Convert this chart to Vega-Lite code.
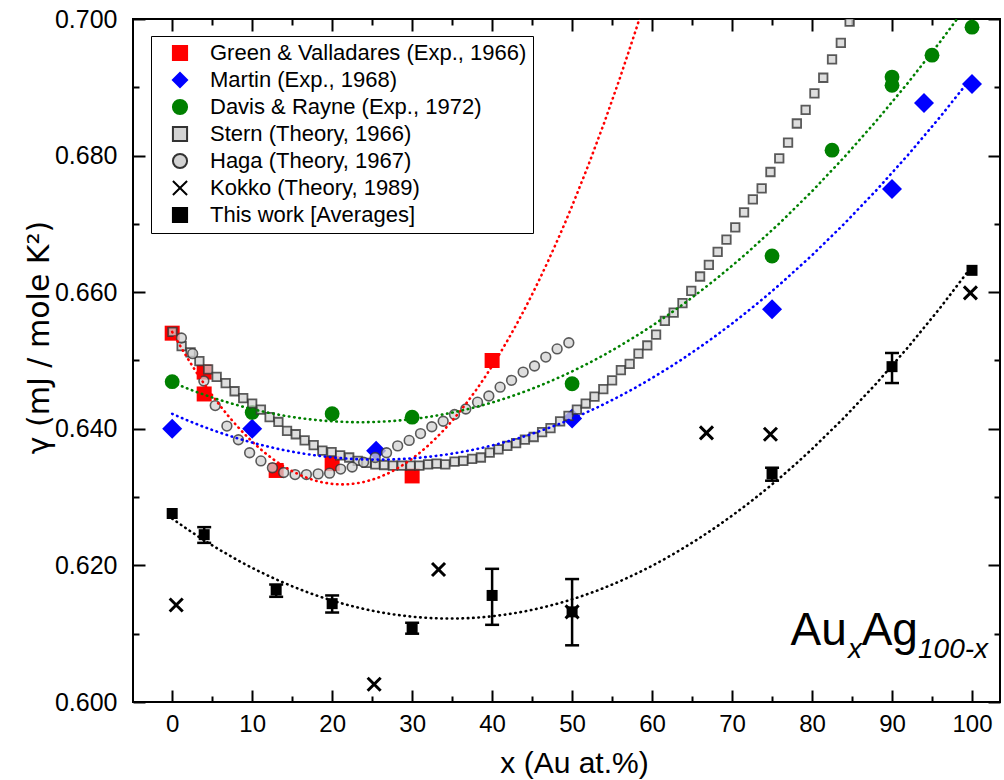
{
  "$schema": "https://vega.github.io/schema/vega-lite/v6.json",
  "width": 867,
  "height": 683,
  "autosize": {"type": "none"},
  "padding": {"left": 133, "top": 19, "right": 4, "bottom": 78},
  "background": "white",
  "config": {
    "view": {"stroke": "black", "strokeWidth": 2},
    "font": "Liberation Sans",
    "axis": {
      "domain": false, "grid": false, "tickColor": "black", "tickWidth": 2,
      "labelFont": "Liberation Sans", "labelFontSize": 24, "labelColor": "black",
      "titleFont": "Liberation Sans", "titleFontSize": 30, "titleFontWeight": "normal", "titleColor": "black"
    },
    "legend": {
      "orient": "none", "legendX": 18, "legendY": 17, "title": null,
      "strokeColor": "black", "fillColor": "white", "padding": 6, "cornerRadius": 0,
      "labelFont": "Liberation Sans", "labelFontSize": 22, "labelColor": "black", "labelLimit": 500,
      "rowPadding": 3, "symbolOffset": 12, "labelOffset": 19, "symbolSize": 200, "symbolStrokeWidth": 2, "symbolOpacity": 1
    }
  },
  "resolve": {"axis": {"x": "independent", "y": "independent"}},
  "datasets": {
    "pts": [
      {"series": "Green & Valladares (Exp., 1966)", "x": 0, "y": 0.6540},
      {"series": "Green & Valladares (Exp., 1966)", "x": 4, "y": 0.6483},
      {"series": "Green & Valladares (Exp., 1966)", "x": 4, "y": 0.6451},
      {"series": "Green & Valladares (Exp., 1966)", "x": 13, "y": 0.6339},
      {"series": "Green & Valladares (Exp., 1966)", "x": 20, "y": 0.6349},
      {"series": "Green & Valladares (Exp., 1966)", "x": 30, "y": 0.6331},
      {"series": "Green & Valladares (Exp., 1966)", "x": 40, "y": 0.6500},
      {"series": "Martin (Exp., 1968)", "x": 0, "y": 0.6400},
      {"series": "Martin (Exp., 1968)", "x": 10, "y": 0.6400},
      {"series": "Martin (Exp., 1968)", "x": 25.5, "y": 0.6368},
      {"series": "Martin (Exp., 1968)", "x": 50, "y": 0.6415},
      {"series": "Martin (Exp., 1968)", "x": 75, "y": 0.6575},
      {"series": "Martin (Exp., 1968)", "x": 90, "y": 0.6751},
      {"series": "Martin (Exp., 1968)", "x": 94, "y": 0.6877},
      {"series": "Martin (Exp., 1968)", "x": 100, "y": 0.6905},
      {"series": "Davis & Rayne (Exp., 1972)", "x": 0, "y": 0.6469},
      {"series": "Davis & Rayne (Exp., 1972)", "x": 10, "y": 0.6424},
      {"series": "Davis & Rayne (Exp., 1972)", "x": 20, "y": 0.6422},
      {"series": "Davis & Rayne (Exp., 1972)", "x": 30, "y": 0.6417},
      {"series": "Davis & Rayne (Exp., 1972)", "x": 50, "y": 0.6466},
      {"series": "Davis & Rayne (Exp., 1972)", "x": 75, "y": 0.6653},
      {"series": "Davis & Rayne (Exp., 1972)", "x": 82.5, "y": 0.6808},
      {"series": "Davis & Rayne (Exp., 1972)", "x": 90, "y": 0.6915},
      {"series": "Davis & Rayne (Exp., 1972)", "x": 90, "y": 0.6903},
      {"series": "Davis & Rayne (Exp., 1972)", "x": 95, "y": 0.6947},
      {"series": "Davis & Rayne (Exp., 1972)", "x": 100, "y": 0.6988},
      {"series": "Kokko (Theory, 1989)", "x": 0.5, "y": 0.6142},
      {"series": "Kokko (Theory, 1989)", "x": 25.25, "y": 0.6026},
      {"series": "Kokko (Theory, 1989)", "x": 33.3, "y": 0.6194},
      {"series": "Kokko (Theory, 1989)", "x": 50, "y": 0.6132},
      {"series": "Kokko (Theory, 1989)", "x": 66.8, "y": 0.6394},
      {"series": "Kokko (Theory, 1989)", "x": 74.8, "y": 0.6392},
      {"series": "Kokko (Theory, 1989)", "x": 99.8, "y": 0.6599}
    ],
    "stern": [
      {"series": "Stern (Theory, 1966)", "x": 0.03, "y": 0.6542},
      {"series": "Stern (Theory, 1966)", "x": 1.18, "y": 0.6521},
      {"series": "Stern (Theory, 1966)", "x": 2.3, "y": 0.6512},
      {"series": "Stern (Theory, 1966)", "x": 3.4, "y": 0.6499},
      {"series": "Stern (Theory, 1966)", "x": 4.49, "y": 0.6487},
      {"series": "Stern (Theory, 1966)", "x": 5.56, "y": 0.6476},
      {"series": "Stern (Theory, 1966)", "x": 6.69, "y": 0.6467},
      {"series": "Stern (Theory, 1966)", "x": 7.8, "y": 0.6455},
      {"series": "Stern (Theory, 1966)", "x": 8.88, "y": 0.6445},
      {"series": "Stern (Theory, 1966)", "x": 10.0, "y": 0.6437},
      {"series": "Stern (Theory, 1966)", "x": 11.09, "y": 0.6428},
      {"series": "Stern (Theory, 1966)", "x": 12.18, "y": 0.6417},
      {"series": "Stern (Theory, 1966)", "x": 13.28, "y": 0.6410},
      {"series": "Stern (Theory, 1966)", "x": 14.36, "y": 0.6397},
      {"series": "Stern (Theory, 1966)", "x": 15.45, "y": 0.6392},
      {"series": "Stern (Theory, 1966)", "x": 16.56, "y": 0.6383},
      {"series": "Stern (Theory, 1966)", "x": 17.69, "y": 0.6376},
      {"series": "Stern (Theory, 1966)", "x": 18.78, "y": 0.6368},
      {"series": "Stern (Theory, 1966)", "x": 19.93, "y": 0.6366},
      {"series": "Stern (Theory, 1966)", "x": 21.0, "y": 0.6361},
      {"series": "Stern (Theory, 1966)", "x": 22.13, "y": 0.6358},
      {"series": "Stern (Theory, 1966)", "x": 23.2, "y": 0.6353},
      {"series": "Stern (Theory, 1966)", "x": 24.3, "y": 0.6350},
      {"series": "Stern (Theory, 1966)", "x": 25.4, "y": 0.6348},
      {"series": "Stern (Theory, 1966)", "x": 26.5, "y": 0.6347},
      {"series": "Stern (Theory, 1966)", "x": 27.6, "y": 0.6346},
      {"series": "Stern (Theory, 1966)", "x": 28.7, "y": 0.6346},
      {"series": "Stern (Theory, 1966)", "x": 29.8, "y": 0.6346},
      {"series": "Stern (Theory, 1966)", "x": 30.9, "y": 0.6346},
      {"series": "Stern (Theory, 1966)", "x": 32.0, "y": 0.6348},
      {"series": "Stern (Theory, 1966)", "x": 33.05, "y": 0.6349},
      {"series": "Stern (Theory, 1966)", "x": 34.15, "y": 0.6348},
      {"series": "Stern (Theory, 1966)", "x": 35.3, "y": 0.6352},
      {"series": "Stern (Theory, 1966)", "x": 36.4, "y": 0.6353},
      {"series": "Stern (Theory, 1966)", "x": 37.5, "y": 0.6356},
      {"series": "Stern (Theory, 1966)", "x": 38.6, "y": 0.6358},
      {"series": "Stern (Theory, 1966)", "x": 39.7, "y": 0.6365},
      {"series": "Stern (Theory, 1966)", "x": 40.8, "y": 0.6370},
      {"series": "Stern (Theory, 1966)", "x": 41.9, "y": 0.6375},
      {"series": "Stern (Theory, 1966)", "x": 43.0, "y": 0.6379},
      {"series": "Stern (Theory, 1966)", "x": 44.1, "y": 0.6384},
      {"series": "Stern (Theory, 1966)", "x": 45.2, "y": 0.6388},
      {"series": "Stern (Theory, 1966)", "x": 46.25, "y": 0.6395},
      {"series": "Stern (Theory, 1966)", "x": 47.3, "y": 0.6401},
      {"series": "Stern (Theory, 1966)", "x": 48.5, "y": 0.6411},
      {"series": "Stern (Theory, 1966)", "x": 49.55, "y": 0.6419},
      {"series": "Stern (Theory, 1966)", "x": 50.6, "y": 0.6428},
      {"series": "Stern (Theory, 1966)", "x": 51.7, "y": 0.6437},
      {"series": "Stern (Theory, 1966)", "x": 52.8, "y": 0.6447},
      {"series": "Stern (Theory, 1966)", "x": 53.9, "y": 0.6458},
      {"series": "Stern (Theory, 1966)", "x": 55.0, "y": 0.6471},
      {"series": "Stern (Theory, 1966)", "x": 56.1, "y": 0.6486},
      {"series": "Stern (Theory, 1966)", "x": 57.2, "y": 0.6495},
      {"series": "Stern (Theory, 1966)", "x": 58.3, "y": 0.6510},
      {"series": "Stern (Theory, 1966)", "x": 59.4, "y": 0.6522},
      {"series": "Stern (Theory, 1966)", "x": 60.5, "y": 0.6538},
      {"series": "Stern (Theory, 1966)", "x": 61.6, "y": 0.6558},
      {"series": "Stern (Theory, 1966)", "x": 62.7, "y": 0.6570},
      {"series": "Stern (Theory, 1966)", "x": 63.8, "y": 0.6584},
      {"series": "Stern (Theory, 1966)", "x": 64.9, "y": 0.6602},
      {"series": "Stern (Theory, 1966)", "x": 66.0, "y": 0.6623},
      {"series": "Stern (Theory, 1966)", "x": 67.1, "y": 0.6640},
      {"series": "Stern (Theory, 1966)", "x": 68.2, "y": 0.6659},
      {"series": "Stern (Theory, 1966)", "x": 69.3, "y": 0.6677},
      {"series": "Stern (Theory, 1966)", "x": 70.4, "y": 0.6695},
      {"series": "Stern (Theory, 1966)", "x": 71.5, "y": 0.6717},
      {"series": "Stern (Theory, 1966)", "x": 72.6, "y": 0.6736},
      {"series": "Stern (Theory, 1966)", "x": 73.7, "y": 0.6752},
      {"series": "Stern (Theory, 1966)", "x": 74.8, "y": 0.6776},
      {"series": "Stern (Theory, 1966)", "x": 75.9, "y": 0.6796},
      {"series": "Stern (Theory, 1966)", "x": 77.0, "y": 0.6819},
      {"series": "Stern (Theory, 1966)", "x": 78.1, "y": 0.6847},
      {"series": "Stern (Theory, 1966)", "x": 79.2, "y": 0.6867},
      {"series": "Stern (Theory, 1966)", "x": 80.3, "y": 0.6891},
      {"series": "Stern (Theory, 1966)", "x": 81.4, "y": 0.6914},
      {"series": "Stern (Theory, 1966)", "x": 82.5, "y": 0.6941},
      {"series": "Stern (Theory, 1966)", "x": 83.6, "y": 0.6965},
      {"series": "Stern (Theory, 1966)", "x": 84.7, "y": 0.6996}
    ],
    "haga": [
      {"series": "Haga (Theory, 1967)", "x": 1.15, "y": 0.6533},
      {"series": "Haga (Theory, 1967)", "x": 2.56, "y": 0.6510},
      {"series": "Haga (Theory, 1967)", "x": 3.96, "y": 0.6470},
      {"series": "Haga (Theory, 1967)", "x": 5.38, "y": 0.6434},
      {"series": "Haga (Theory, 1967)", "x": 6.84, "y": 0.6404},
      {"series": "Haga (Theory, 1967)", "x": 8.28, "y": 0.6384},
      {"series": "Haga (Theory, 1967)", "x": 9.68, "y": 0.6365},
      {"series": "Haga (Theory, 1967)", "x": 11.09, "y": 0.6353},
      {"series": "Haga (Theory, 1967)", "x": 12.53, "y": 0.6343},
      {"series": "Haga (Theory, 1967)", "x": 13.94, "y": 0.6336},
      {"series": "Haga (Theory, 1967)", "x": 15.36, "y": 0.6333},
      {"series": "Haga (Theory, 1967)", "x": 16.78, "y": 0.6333},
      {"series": "Haga (Theory, 1967)", "x": 18.25, "y": 0.6334},
      {"series": "Haga (Theory, 1967)", "x": 19.68, "y": 0.6335},
      {"series": "Haga (Theory, 1967)", "x": 21.06, "y": 0.6341},
      {"series": "Haga (Theory, 1967)", "x": 22.5, "y": 0.6344},
      {"series": "Haga (Theory, 1967)", "x": 23.93, "y": 0.6351},
      {"series": "Haga (Theory, 1967)", "x": 25.38, "y": 0.6358},
      {"series": "Haga (Theory, 1967)", "x": 26.8, "y": 0.6365},
      {"series": "Haga (Theory, 1967)", "x": 28.19, "y": 0.6375},
      {"series": "Haga (Theory, 1967)", "x": 29.63, "y": 0.6383},
      {"series": "Haga (Theory, 1967)", "x": 31.05, "y": 0.6393},
      {"series": "Haga (Theory, 1967)", "x": 32.46, "y": 0.6403},
      {"series": "Haga (Theory, 1967)", "x": 33.88, "y": 0.6411},
      {"series": "Haga (Theory, 1967)", "x": 35.3, "y": 0.6421},
      {"series": "Haga (Theory, 1967)", "x": 36.71, "y": 0.6429},
      {"series": "Haga (Theory, 1967)", "x": 38.18, "y": 0.6439},
      {"series": "Haga (Theory, 1967)", "x": 39.59, "y": 0.6448},
      {"series": "Haga (Theory, 1967)", "x": 41.0, "y": 0.6461},
      {"series": "Haga (Theory, 1967)", "x": 42.43, "y": 0.6471},
      {"series": "Haga (Theory, 1967)", "x": 43.88, "y": 0.6483},
      {"series": "Haga (Theory, 1967)", "x": 45.3, "y": 0.6492},
      {"series": "Haga (Theory, 1967)", "x": 46.71, "y": 0.6505},
      {"series": "Haga (Theory, 1967)", "x": 48.13, "y": 0.6517},
      {"series": "Haga (Theory, 1967)", "x": 49.59, "y": 0.6526}
    ],
    "work": [
      {"series": "This work [Averages]", "x": 0, "y": 0.6276, "lo": null, "hi": null},
      {"series": "This work [Averages]", "x": 4, "y": 0.6245, "lo": 0.6233, "hi": 0.6256},
      {"series": "This work [Averages]", "x": 13, "y": 0.6164, "lo": 0.6154, "hi": 0.6172},
      {"series": "This work [Averages]", "x": 20, "y": 0.6144, "lo": 0.6131, "hi": 0.6156},
      {"series": "This work [Averages]", "x": 30, "y": 0.6109, "lo": 0.6100, "hi": 0.6116},
      {"series": "This work [Averages]", "x": 40, "y": 0.6156, "lo": 0.6113, "hi": 0.6195},
      {"series": "This work [Averages]", "x": 50, "y": 0.6132, "lo": 0.6083, "hi": 0.6180},
      {"series": "This work [Averages]", "x": 75, "y": 0.6334, "lo": 0.6324, "hi": 0.6343},
      {"series": "This work [Averages]", "x": 90, "y": 0.6491, "lo": 0.6467, "hi": 0.6511},
      {"series": "This work [Averages]", "x": 100, "y": 0.6632, "lo": null, "hi": null}
    ]
  },
  "layer": [
    {
      "data": {"name": "pts"},
      "transform": [{"filter": "datum.series === 'Green & Valladares (Exp., 1966)'"}],
      "mark": {"type": "point", "filled": true, "size": 225, "opacity": 1, "strokeWidth": 0},
      "encoding": {
        "x": {"field": "x", "type": "quantitative", "scale": {"domain": [-4.9, 103.5], "nice": false, "zero": false},
              "axis": {"orient": "bottom", "values": [0, 10, 20, 30, 40, 50, 60, 70, 80, 90, 100], "tickSize": -12, "labelPadding": 22, "labelFontSize": 24, "title": "x (Au at.%)", "titleX": 441, "titleY": 70, "titleBaseline": "alphabetic", "titleFontSize": 30}},
        "y": {"field": "y", "type": "quantitative", "scale": {"domain": [0.6, 0.7], "nice": false, "zero": false},
              "axis": {"orient": "left", "values": [0.6, 0.62, 0.64, 0.66, 0.68, 0.7], "format": ".3f", "tickSize": -12, "labelPadding": 28, "labelFontSize": 25, "title": "γ (mJ / mole K²)", "titlePadding": 0, "titleY": 318, "titleFont": "DejaVu Sans", "titleFontSize": 30}},
        "shape": {"field": "series", "type": "nominal",
          "scale": {"domain": ["Green & Valladares (Exp., 1966)", "Martin (Exp., 1968)", "Davis & Rayne (Exp., 1972)", "Stern (Theory, 1966)", "Haga (Theory, 1967)", "Kokko (Theory, 1989)", "This work [Averages]"],
                    "range": ["square", "diamond", "circle", "square", "circle", "M-1,-1L1,1M1,-1L-1,1", "square"]},
          "legend": {"orient": "none", "legendX": 18, "legendY": 17, "title": null}},
        "fill": {"field": "series", "type": "nominal",
          "scale": {"domain": ["Green & Valladares (Exp., 1966)", "Martin (Exp., 1968)", "Davis & Rayne (Exp., 1972)", "Stern (Theory, 1966)", "Haga (Theory, 1967)", "Kokko (Theory, 1989)", "This work [Averages]"],
                    "range": ["#ff0000", "#0000ff", "#008000", "#d3d3d3", "#d3d3d3", "transparent", "#000000"]},
          "legend": {"orient": "none", "legendX": 18, "legendY": 17, "title": null}},
        "stroke": {"field": "series", "type": "nominal",
          "scale": {"domain": ["Green & Valladares (Exp., 1966)", "Martin (Exp., 1968)", "Davis & Rayne (Exp., 1972)", "Stern (Theory, 1966)", "Haga (Theory, 1967)", "Kokko (Theory, 1989)", "This work [Averages]"],
                    "range": ["#ff0000", "#0000ff", "#008000", "#333333", "#333333", "#000000", "#000000"]},
          "legend": {"orient": "none", "legendX": 18, "legendY": 17, "title": null}}
      }
    },
    {
      "data": {"name": "pts"},
      "transform": [{"filter": "datum.series === 'Martin (Exp., 1968)'"}],
      "mark": {"type": "point", "filled": true, "color": "#0000ff", "size": 400, "opacity": 1, "strokeWidth": 0},
      "encoding": {
        "x": {"field": "x", "type": "quantitative", "scale": {"domain": [-4.9, 103.5], "nice": false, "zero": false},
              "axis": {"orient": "bottom", "values": [5, 15, 25, 35, 45, 55, 65, 75, 85, 95], "tickSize": -6, "labels": false, "title": null}},
        "y": {"field": "y", "type": "quantitative", "scale": {"domain": [0.6, 0.7], "nice": false, "zero": false},
              "axis": {"orient": "left", "values": [0.61, 0.63, 0.65, 0.67, 0.69], "tickSize": -6, "labels": false, "title": null}},
        "shape": {"field": "series", "type": "nominal",
          "scale": {"domain": ["Green & Valladares (Exp., 1966)", "Martin (Exp., 1968)", "Davis & Rayne (Exp., 1972)", "Stern (Theory, 1966)", "Haga (Theory, 1967)", "Kokko (Theory, 1989)", "This work [Averages]"],
                    "range": ["square", "diamond", "circle", "square", "circle", "M-1,-1L1,1M1,-1L-1,1", "square"]},
          "legend": null}
      }
    },
    {
      "data": {"name": "pts"},
      "transform": [{"filter": "datum.series === 'Davis & Rayne (Exp., 1972)'"}],
      "mark": {"type": "point", "filled": true, "color": "#008000", "size": 220, "opacity": 1, "strokeWidth": 0},
      "encoding": {
        "x": {"field": "x", "type": "quantitative", "scale": {"domain": [-4.9, 103.5], "nice": false, "zero": false},
              "axis": {"orient": "top", "values": [0, 10, 20, 30, 40, 50, 60, 70, 80, 90, 100], "tickSize": -12, "labels": false, "title": null}},
        "y": {"field": "y", "type": "quantitative", "scale": {"domain": [0.6, 0.7], "nice": false, "zero": false},
              "axis": {"orient": "right", "values": [0.6, 0.62, 0.64, 0.66, 0.68, 0.7], "tickSize": -12, "labels": false, "title": null}},
        "shape": {"field": "series", "type": "nominal",
          "scale": {"domain": ["Green & Valladares (Exp., 1966)", "Martin (Exp., 1968)", "Davis & Rayne (Exp., 1972)", "Stern (Theory, 1966)", "Haga (Theory, 1967)", "Kokko (Theory, 1989)", "This work [Averages]"],
                    "range": ["square", "diamond", "circle", "square", "circle", "M-1,-1L1,1M1,-1L-1,1", "square"]},
          "legend": null}
      }
    },
    {
      "data": {"name": "stern"},
      "mark": {"type": "point", "filled": true, "fill": "#d3d3d3", "fillOpacity": 0.75, "stroke": "#333333", "strokeOpacity": 0.8, "strokeWidth": 1.8, "size": 72, "clip": true},
      "encoding": {
        "x": {"field": "x", "type": "quantitative", "scale": {"domain": [-4.9, 103.5], "nice": false, "zero": false},
              "axis": {"orient": "top", "values": [5, 15, 25, 35, 45, 55, 65, 75, 85, 95], "tickSize": -6, "labels": false, "title": null}},
        "y": {"field": "y", "type": "quantitative", "scale": {"domain": [0.6, 0.7], "nice": false, "zero": false},
              "axis": {"orient": "right", "values": [0.61, 0.63, 0.65, 0.67, 0.69], "tickSize": -6, "labels": false, "title": null}},
        "shape": {"field": "series", "type": "nominal",
          "scale": {"domain": ["Green & Valladares (Exp., 1966)", "Martin (Exp., 1968)", "Davis & Rayne (Exp., 1972)", "Stern (Theory, 1966)", "Haga (Theory, 1967)", "Kokko (Theory, 1989)", "This work [Averages]"],
                    "range": ["square", "diamond", "circle", "square", "circle", "M-1,-1L1,1M1,-1L-1,1", "square"]},
          "legend": null}
      }
    },
    {
      "data": {"name": "haga"},
      "mark": {"type": "point", "filled": true, "fill": "#d3d3d3", "fillOpacity": 0.75, "stroke": "#333333", "strokeOpacity": 0.8, "strokeWidth": 1.6, "size": 95},
      "encoding": {
        "x": {"field": "x", "type": "quantitative", "scale": {"domain": [-4.9, 103.5], "nice": false, "zero": false}, "axis": null},
        "y": {"field": "y", "type": "quantitative", "scale": {"domain": [0.6, 0.7], "nice": false, "zero": false}, "axis": null},
        "shape": {"field": "series", "type": "nominal",
          "scale": {"domain": ["Green & Valladares (Exp., 1966)", "Martin (Exp., 1968)", "Davis & Rayne (Exp., 1972)", "Stern (Theory, 1966)", "Haga (Theory, 1967)", "Kokko (Theory, 1989)", "This work [Averages]"],
                    "range": ["square", "diamond", "circle", "square", "circle", "M-1,-1L1,1M1,-1L-1,1", "square"]},
          "legend": null}
      }
    },
    {
      "data": {"name": "pts"},
      "transform": [
        {"filter": "datum.series === 'Green & Valladares (Exp., 1966)'"},
        {"regression": "y", "on": "x", "method": "poly", "order": 2, "extent": [0, 100]}
      ],
      "mark": {"type": "line", "color": "#ff0000", "strokeWidth": 2.6, "strokeDash": [0.5, 4.8], "strokeCap": "round", "clip": true},
      "encoding": {
        "x": {"field": "x", "type": "quantitative", "scale": {"domain": [-4.9, 103.5], "nice": false, "zero": false}, "axis": null},
        "y": {"field": "y", "type": "quantitative", "scale": {"domain": [0.6, 0.7], "nice": false, "zero": false}, "axis": null}
      }
    },
    {
      "data": {"name": "pts"},
      "transform": [
        {"filter": "datum.series === 'Martin (Exp., 1968)'"},
        {"regression": "y", "on": "x", "method": "poly", "order": 2, "extent": [0, 100]}
      ],
      "mark": {"type": "line", "color": "#0000ff", "strokeWidth": 2.6, "strokeDash": [0.5, 4.8], "strokeCap": "round", "clip": true},
      "encoding": {
        "x": {"field": "x", "type": "quantitative", "scale": {"domain": [-4.9, 103.5], "nice": false, "zero": false}, "axis": null},
        "y": {"field": "y", "type": "quantitative", "scale": {"domain": [0.6, 0.7], "nice": false, "zero": false}, "axis": null}
      }
    },
    {
      "data": {"name": "pts"},
      "transform": [
        {"filter": "datum.series === 'Davis & Rayne (Exp., 1972)'"},
        {"regression": "y", "on": "x", "method": "poly", "order": 2, "extent": [0, 100]}
      ],
      "mark": {"type": "line", "color": "#008000", "strokeWidth": 2.6, "strokeDash": [0.5, 4.8], "strokeCap": "round", "clip": true},
      "encoding": {
        "x": {"field": "x", "type": "quantitative", "scale": {"domain": [-4.9, 103.5], "nice": false, "zero": false}, "axis": null},
        "y": {"field": "y", "type": "quantitative", "scale": {"domain": [0.6, 0.7], "nice": false, "zero": false}, "axis": null}
      }
    },
    {
      "data": {"name": "work"},
      "transform": [
        {"regression": "y", "on": "x", "method": "poly", "order": 2, "extent": [0, 100]}
      ],
      "mark": {"type": "line", "color": "#000000", "strokeWidth": 2.6, "strokeDash": [0.5, 4.8], "strokeCap": "round", "clip": true},
      "encoding": {
        "x": {"field": "x", "type": "quantitative", "scale": {"domain": [-4.9, 103.5], "nice": false, "zero": false}, "axis": null},
        "y": {"field": "y", "type": "quantitative", "scale": {"domain": [0.6, 0.7], "nice": false, "zero": false}, "axis": null}
      }
    },
    {
      "data": {"name": "pts"},
      "transform": [{"filter": "datum.series === 'Kokko (Theory, 1989)'"}],
      "mark": {"type": "point", "filled": false, "fill": "transparent", "stroke": "#000000", "strokeWidth": 3, "size": 170, "opacity": 1},
      "encoding": {
        "x": {"field": "x", "type": "quantitative", "scale": {"domain": [-4.9, 103.5], "nice": false, "zero": false}, "axis": null},
        "y": {"field": "y", "type": "quantitative", "scale": {"domain": [0.6, 0.7], "nice": false, "zero": false}, "axis": null},
        "shape": {"field": "series", "type": "nominal",
          "scale": {"domain": ["Green & Valladares (Exp., 1966)", "Martin (Exp., 1968)", "Davis & Rayne (Exp., 1972)", "Stern (Theory, 1966)", "Haga (Theory, 1967)", "Kokko (Theory, 1989)", "This work [Averages]"],
                    "range": ["square", "diamond", "circle", "square", "circle", "M-1,-1L1,1M1,-1L-1,1", "square"]},
          "legend": null}
      }
    },
    {
      "data": {"name": "work"},
      "transform": [{"filter": "datum.lo != null"}],
      "mark": {"type": "rule", "color": "#000000", "strokeWidth": 2.5},
      "encoding": {
        "x": {"field": "x", "type": "quantitative", "scale": {"domain": [-4.9, 103.5], "nice": false, "zero": false}, "axis": null},
        "y": {"field": "lo", "type": "quantitative", "scale": {"domain": [0.6, 0.7], "nice": false, "zero": false}, "axis": null},
        "y2": {"field": "hi"}
      }
    },
    {
      "data": {"name": "work"},
      "transform": [{"filter": "datum.lo != null"}],
      "mark": {"type": "tick", "orient": "horizontal", "color": "#000000", "size": 14, "thickness": 2.5, "opacity": 1},
      "encoding": {
        "x": {"field": "x", "type": "quantitative", "scale": {"domain": [-4.9, 103.5], "nice": false, "zero": false}, "axis": null},
        "y": {"field": "lo", "type": "quantitative", "scale": {"domain": [0.6, 0.7], "nice": false, "zero": false}, "axis": null}
      }
    },
    {
      "data": {"name": "work"},
      "transform": [{"filter": "datum.lo != null"}],
      "mark": {"type": "tick", "orient": "horizontal", "color": "#000000", "size": 14, "thickness": 2.5, "opacity": 1},
      "encoding": {
        "x": {"field": "x", "type": "quantitative", "scale": {"domain": [-4.9, 103.5], "nice": false, "zero": false}, "axis": null},
        "y": {"field": "hi", "type": "quantitative", "scale": {"domain": [0.6, 0.7], "nice": false, "zero": false}, "axis": null}
      }
    },
    {
      "data": {"name": "work"},
      "mark": {"type": "point", "filled": true, "color": "#000000", "size": 121, "opacity": 1, "strokeWidth": 0},
      "encoding": {
        "x": {"field": "x", "type": "quantitative", "scale": {"domain": [-4.9, 103.5], "nice": false, "zero": false}, "axis": null},
        "y": {"field": "y", "type": "quantitative", "scale": {"domain": [0.6, 0.7], "nice": false, "zero": false}, "axis": null},
        "shape": {"field": "series", "type": "nominal",
          "scale": {"domain": ["Green & Valladares (Exp., 1966)", "Martin (Exp., 1968)", "Davis & Rayne (Exp., 1972)", "Stern (Theory, 1966)", "Haga (Theory, 1967)", "Kokko (Theory, 1989)", "This work [Averages]"],
                    "range": ["square", "diamond", "circle", "square", "circle", "M-1,-1L1,1M1,-1L-1,1", "square"]},
          "legend": null}
      }
    },
    {
      "data": {"values": [{}]},
      "mark": {"type": "text", "text": "Au", "font": "Liberation Sans", "fontSize": 46, "align": "left", "baseline": "alphabetic", "color": "black"},
      "encoding": {
        "x": {"datum": 77.3, "type": "quantitative", "scale": {"domain": [-4.9, 103.5], "nice": false, "zero": false}, "axis": null},
        "y": {"datum": 0.6083, "type": "quantitative", "scale": {"domain": [0.6, 0.7], "nice": false, "zero": false}, "axis": null}
      }
    },
    {
      "data": {"values": [{}]},
      "mark": {"type": "text", "text": "x", "font": "Liberation Sans", "fontStyle": "italic", "fontSize": 28, "align": "left", "baseline": "alphabetic", "color": "black"},
      "encoding": {
        "x": {"datum": 84.5, "type": "quantitative", "scale": {"domain": [-4.9, 103.5], "nice": false, "zero": false}, "axis": null},
        "y": {"datum": 0.6064, "type": "quantitative", "scale": {"domain": [0.6, 0.7], "nice": false, "zero": false}, "axis": null}
      }
    },
    {
      "data": {"values": [{}]},
      "mark": {"type": "text", "text": "Ag", "font": "Liberation Sans", "fontSize": 46, "align": "left", "baseline": "alphabetic", "color": "black"},
      "encoding": {
        "x": {"datum": 86.2, "type": "quantitative", "scale": {"domain": [-4.9, 103.5], "nice": false, "zero": false}, "axis": null},
        "y": {"datum": 0.6083, "type": "quantitative", "scale": {"domain": [0.6, 0.7], "nice": false, "zero": false}, "axis": null}
      }
    },
    {
      "data": {"values": [{}]},
      "mark": {"type": "text", "text": "100-x", "font": "Liberation Sans", "fontStyle": "italic", "fontSize": 28, "align": "left", "baseline": "alphabetic", "color": "black"},
      "encoding": {
        "x": {"datum": 93.25, "type": "quantitative", "scale": {"domain": [-4.9, 103.5], "nice": false, "zero": false}, "axis": null},
        "y": {"datum": 0.6064, "type": "quantitative", "scale": {"domain": [0.6, 0.7], "nice": false, "zero": false}, "axis": null}
      }
    }
  ]
}
